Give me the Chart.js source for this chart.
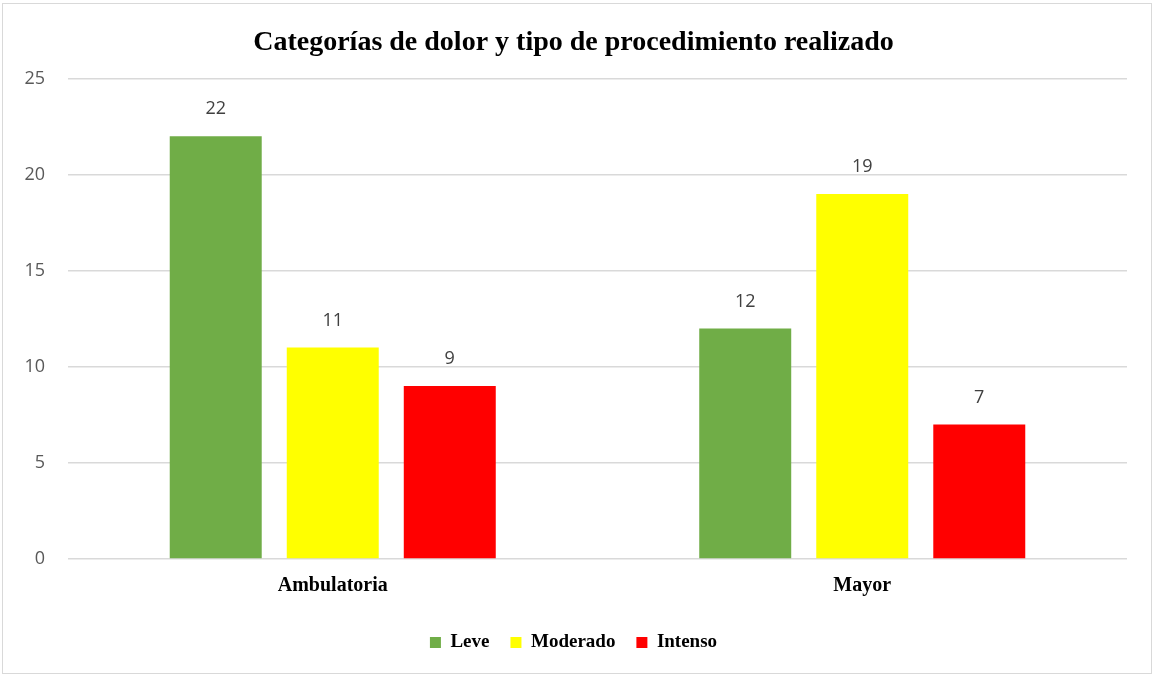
<!DOCTYPE html>
<html>
<head>
<meta charset="utf-8">
<script src="https://cdn.jsdelivr.net/npm/chart.js@4/dist/chart.umd.min.js"></script>
<style>
  html, body { margin: 0; padding: 0; background: #fff; }
  #wrap { position: relative; width: 1154px; height: 676px; }
  #frame { position: absolute; left: 2px; top: 3px; width: 1148px; height: 669px; border: 1px solid #d9d9d9; pointer-events: none; }
  canvas { position: absolute; left: 0; top: 0; }
</style>
</head>
<body>
<div id="wrap">
  <canvas id="chart" width="1154" height="676"></canvas>
  <div id="frame"></div>
</div>
<script>
// datos
const categorias = ['Ambulatoria', 'Mayor'];
const leve = [22, 12];
const moderado = [11, 19];
const intenso = [9, 7];
const yTicks = [0, 5, 10, 15, 20, 25];

const SERIF = '"Liberation Serif", "Times New Roman", serif';
const SANS = '"Open Sans", "Liberation Sans", sans-serif';

// etiquetas de valor encima de cada barra
const valueLabels = {
  id: 'valueLabels',
  afterDatasetsDraw(chart) {
    const ctx = chart.ctx;
    ctx.save();
    ctx.font = '18px ' + SANS;
    ctx.fillStyle = '#404040';
    ctx.textAlign = 'center';
    ctx.textBaseline = 'middle';
    chart.data.datasets.forEach((ds, i) => {
      chart.getDatasetMeta(i).data.forEach((bar, j) => {
        ctx.fillText(ds.data[j], bar.x, bar.y - 27);
      });
    });
    ctx.restore();
  }
};

const serie = (label, data, color) => ({
  label, data,
  backgroundColor: color,
  borderWidth: 0,
  categoryPercentage: 0.663,
  barPercentage: 0.786,
});

new Chart(document.getElementById('chart'), {
  type: 'bar',
  data: {
    labels: categorias,
    datasets: [
      serie('Leve', leve, '#70ad47'),
      serie('Moderado', moderado, '#ffff00'),
      serie('Intenso', intenso, '#ff0000'),
    ]
  },
  options: {
    responsive: false,
    animation: false,
    layout: { padding: { left: 20, right: 27, top: 0, bottom: 14 } },
    plugins: {
      title: {
        display: true,
        text: 'Categorías de dolor y tipo de procedimiento realizado',
        color: '#000',
        font: { family: SERIF, size: 28, weight: 'bold' },
        padding: { top: 26, bottom: 19 }
      },
      legend: {
        position: 'bottom',
        labels: {
          color: '#000',
          font: { family: SERIF, size: 19, weight: 'bold' },
          boxWidth: 11, boxHeight: 11,
          padding: 21
        }
      },
      tooltip: { enabled: false }
    },
    scales: {
      x: {
        grid: { display: false },
        border: { display: false },
        afterFit: s => { s.height += 7; },
        ticks: { color: '#000', font: { family: SERIF, size: 20, weight: 'bold' }, padding: 7 }
      },
      y: {
        min: 0, max: 25,
        afterFit: s => { s.width = 48; },
        afterBuildTicks: s => { s.ticks = yTicks.map(v => ({ value: v })); },
        grid: { color: '#d9d9d9', lineWidth: 1.5, drawTicks: false },
        border: { display: false },
        ticks: { color: '#595959', font: { family: SANS, size: 18 }, padding: 23 }
      }
    }
  },
  plugins: [valueLabels]
});
</script>
</body>
</html>
